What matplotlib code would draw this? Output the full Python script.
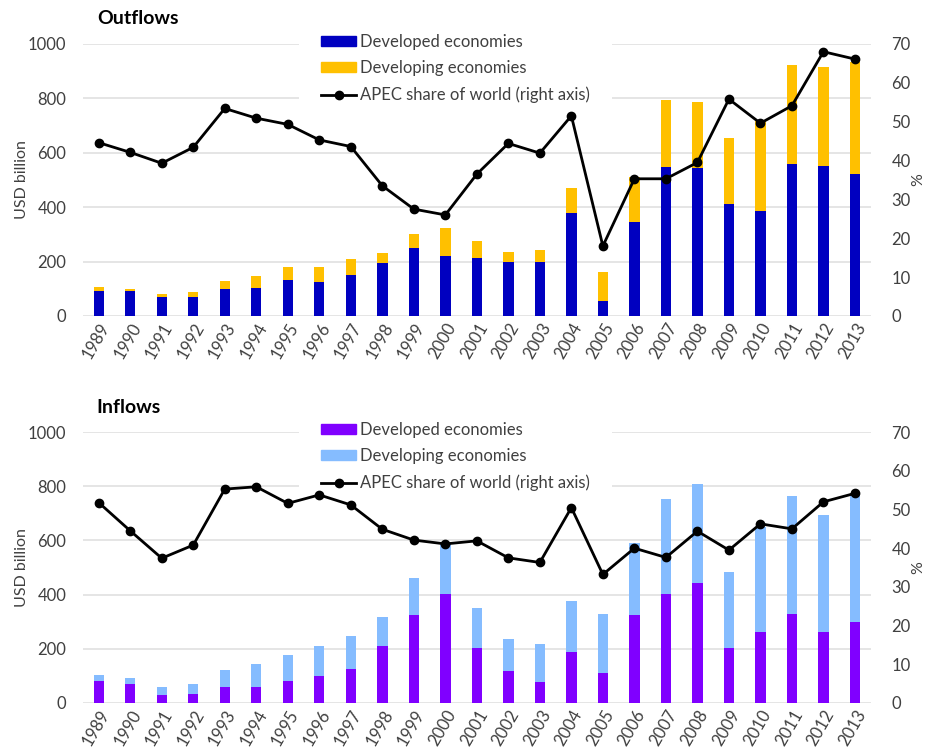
import matplotlib
matplotlib.use("Agg")
import matplotlib.pyplot as plt
from matplotlib.patches import Patch
from matplotlib.lines import Line2D
import numpy as np

years = [str(y) for y in range(1989, 2014)]

out_developed = [92, 92, 69, 69, 98, 104, 134, 124, 151, 194, 250, 222, 212, 200, 200,
                 377, 56, 347, 547, 543, 412, 387, 559, 551, 522]
out_total = [105, 100, 80, 89, 130, 147, 179, 179, 208, 230, 300, 322, 276, 236, 243,
             469, 163, 510, 794, 787, 653, 715, 921, 914, 935]
out_share = [44.6, 42.1, 39.3, 43.4, 53.4, 50.9, 49.3, 45.3, 43.6, 33.5, 27.5, 26.0, 36.5,
             44.4, 41.9, 51.5, 18.0, 35.3, 35.3, 39.5, 55.8, 49.6, 54.1, 68.0, 66.1]

in_developed = [81, 69, 28, 32, 59, 57, 81, 100, 126, 210, 323, 402, 203, 118, 76,
                186, 109, 324, 401, 441, 203, 260, 328, 260, 300]
in_total = [102, 90, 59, 68, 121, 142, 176, 210, 248, 316, 460, 588, 351, 236, 217,
            375, 328, 589, 753, 808, 482, 651, 763, 693, 775]
in_share = [51.8, 44.5, 37.4, 40.8, 55.3, 55.9, 51.6, 53.8, 51.2, 44.9, 42.1, 41.1, 41.9,
            37.5, 36.3, 50.5, 33.2, 40.0, 37.6, 44.4, 39.5, 46.3, 45.0, 52.0, 54.2]

legend_labels = ["Developed economies", "Developing economies",
                 "APEC share of world (right axis)"]

FONT = "Lato"
TXT = "#404040"
plt.rcParams["font.family"] = [FONT, "DejaVu Sans"]

W, H = 925, 755
fig = plt.figure(figsize=(W / 100, H / 100), dpi=100)


def panel(rect, title, dev, total, share, c_dev, c_devg, leg_px):
    ax = fig.add_axes(rect)
    x = np.arange(len(years))
    dev = np.array(dev, float)
    devg = np.array(total, float) - dev
    ax.bar(x, dev, width=0.33, color=c_dev, zorder=2)
    ax.bar(x, devg, width=0.33, bottom=dev, color=c_devg, zorder=2)
    ax.set_xlim(-0.5, len(years) - 0.5)
    ax.set_ylim(0, 1000)
    ax.set_yticks(range(0, 1001, 200))
    ax.yaxis.grid(True, color="#E3E3E3", linewidth=1.3, zorder=0)
    ax.set_axisbelow(True)
    for s in ax.spines.values():
        s.set_visible(False)
    ax.tick_params(length=0, labelsize=12, colors=TXT, pad=12)
    ax.tick_params(axis="x", pad=3)
    ax.set_xticks(x)
    ax.set_xticklabels(years, rotation=60, ha="right", va="top", rotation_mode="anchor")
    ax.set_ylabel("USD billion", fontsize=11.5, color=TXT, labelpad=-1)

    ax2 = ax.twinx()
    ax2.plot(x, share, color="black", linewidth=2, marker="o", markersize=6, zorder=3)
    ax2.set_ylim(0, 70)
    ax2.set_yticks(range(0, 71, 10))
    for s in ax2.spines.values():
        s.set_visible(False)
    ax2.tick_params(length=0, labelsize=12, colors=TXT, pad=15)
    ax2.set_ylabel("%", fontsize=11.5, color=TXT, labelpad=0)

    handles = [Patch(color=c_dev), Patch(color=c_devg),
               Line2D([], [], color="black", linewidth=2, marker="o", markersize=6)]
    leg = ax2.legend(handles, legend_labels, loc="upper left",
                     bbox_to_anchor=(leg_px[0] / W, 1 - leg_px[1] / H),
                     bbox_transform=fig.transFigure,
                     frameon=True, facecolor="white", edgecolor="none", framealpha=1,
                     fontsize=12, handlelength=2.1, handleheight=0.55, handletextpad=0.25,
                     labelspacing=0.62, borderpad=1.3, fancybox=False,
                     labelcolor=TXT)
    leg.set_zorder(2.5)
    fig.text(rect[0] + 0.015, rect[1] + rect[3] + 0.022, title, fontsize=14,
             fontweight="bold", color="black", ha="left", va="bottom")
    return ax, ax2


panel([0.0897, 0.5815, 0.8516, 0.3603], "Outflows", out_developed, out_total, out_share,
      "#0000C0", "#FFC000", (291, 4))
panel([0.0897, 0.0693, 0.8516, 0.3581], "Inflows", in_developed, in_total, in_share,
      "#8000FF", "#85BCFF", (291, 392))

fig.savefig("out.png", dpi=100)
